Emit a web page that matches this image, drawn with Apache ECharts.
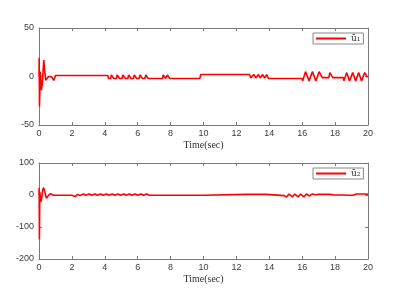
<!DOCTYPE html>
<html>
<head>
<meta charset="utf-8">
<script src="https://cdn.jsdelivr.net/npm/echarts@6/dist/echarts.min.js"></script>
<style>html,body{margin:0;padding:0;background:#fff;}#c{width:416px;height:289px;}</style>
</head>
<body>
<div id="c"></div>
<script>
// ---- data ----
var xTicks = [0, 2, 4, 6, 8, 10, 12, 14, 16, 18, 20];
var u1Ticks = [-50, 0, 50];
var u2Ticks = [-200, -100, 0, 100];
var u1Name = 'ū₁';
var u2Name = 'ū₂';
var xLabel = 'Time(sec)';

var u1T = [0, 0.01, 0.03, 0.08, 0.14, 0.2, 0.29, 0.35, 0.41, 0.5, 0.58, 0.65, 0.75, 0.9, 0.96, 1.0,
  4.18, 4.22, 4.35, 4.4, 4.5, 4.55, 4.7, 4.75, 4.85, 4.9, 5.05, 5.1, 5.2, 5.25, 5.4, 5.45, 5.55, 5.6,
  5.74, 5.79, 5.89, 5.94, 6.09, 6.14, 6.24, 6.29, 6.44, 6.49, 6.59, 6.64,
  7.5, 7.55, 7.65, 7.7, 7.75, 7.8, 7.9, 7.95, 9.78, 9.83,
  12.8, 12.88, 13.0, 13.05, 13.15, 13.2, 13.27, 13.32, 13.42, 13.46, 13.53, 13.58, 13.68, 13.72, 13.79, 13.84, 13.9, 13.95,
  16.0, 16.03, 16.09, 16.2, 16.3, 16.42, 16.5, 16.62, 16.72, 16.83, 16.92, 17.03, 17.12, 17.22,
  17.62, 17.68, 17.8, 17.86, 18.5, 18.54, 18.6, 18.7, 18.78, 18.88, 18.96, 19.07, 19.15, 19.25, 19.33,
  19.43, 19.51, 19.61, 19.69, 19.8, 19.88, 19.97, 20];
var u1V = [0, 19, -31, 5, -14, -8, 17, 5, -4, -4, 0, 2, 0, -4, -3, 1,
  1, -2, -2, 1.5, 1.5, -2, -2, 1.5, 1.5, -2, -2, 1.5, 1.5, -2, -2, 1.5, 1.5, -2,
  -2, 1.5, 1.5, -2, -2, 1.5, 1.5, -2, -2, 1.5, 1.5, -2,
  -2, 1.5, 1.5, -2, -2, 1.5, 1.5, -2, -2, 2,
  2, -1.5, -1.5, 2, 2, -1.5, -1.5, 2, 2, -1.5, -1.5, 2, 2, -1.5, -1.5, 2, 2, -2,
  -2, -4.5, -4.5, 5, 5, -4.5, -4.5, 5, 5, -4.5, -4.5, 5, 5, -1.2,
  -1.2, 4, 4, -1.2, -1.2, -4.5, -4.5, 4, 4, -4.5, -4.5, 4, 4, -4.5, -4.5,
  4, 4, -4.5, -4.5, 4, 4, -1, -1];

var u2T = [0, 0.01, 0.025, 0.05, 0.1, 0.15, 0.22, 0.28, 0.35, 0.45, 0.55, 0.68, 0.8, 0.9, 1.55, 1.65, 1.8, 2.0,
  2.2, 2.35, 2.5, 2.7, 2.85, 3.05, 3.2, 3.4, 3.55, 3.75, 3.9, 4.1, 4.25, 4.45, 4.6, 4.8, 4.95, 5.15, 5.3,
  5.5, 5.65, 5.85, 6.0, 6.2, 6.35, 6.55, 6.7, 7.8, 7.87, 7.95, 10.0, 10.1, 12.6, 12.7, 12.8, 12.9, 13.0,
  13.1, 13.2, 13.3, 13.45, 13.6, 13.7, 13.8, 13.9, 14.9, 15.05, 15.2, 15.4, 15.55, 15.75, 15.9, 16.1, 16.25,
  16.45, 16.6, 16.8, 17.0, 17.7, 17.8, 17.9, 18.5, 18.6, 18.7, 18.8, 18.9, 19.0, 19.1, 19.3, 19.4, 19.55,
  19.65, 19.8, 19.9, 20];
var u2V = [0, 22, -138, 10, -22, -15, 15, 23, 10, -10, -3, 4, 0, -1, -1, 3, -1, -1,
  -5, 2, -2, 3, -1, 3, -1, 3, -1, 3, -1, 3, -1, 3, -1, 3, -1, 3, -1,
  3, -1, 3, -1, 3, -1, 3, -1, -1, 3, -1, -1, 2, 2, -1, 2, -1, 2,
  -1, 2, -1, 2, 2, -1, 2, -2, -2, -6, 3, -6, 3, -6, 3, -6, 3,
  -3, 3, 1, 2, 2, 4, 0, 0, 3, -1, 3, -1, 3, -1, 3, -1, 3,
  -1, 3, -1, 2];

function pairs(t, v) { return t.map(function (x, i) { return [x, v[i]]; }); }

var axisColor = '#7a7a7a';
var labelStyle = { color: '#3a3a3a', fontSize: 9, fontFamily: 'Liberation Sans, Arial, sans-serif' };
function xAx(gi, main) {
  return {
    type: 'value', gridIndex: gi, min: xTicks[0], max: xTicks[xTicks.length - 1], interval: 2,
    position: main ? 'bottom' : 'top',
    axisLine: { show: true, onZero: false, lineStyle: { color: axisColor, width: 1 } },
    axisTick: { show: true, inside: true, length: 3, lineStyle: { color: axisColor } },
    axisLabel: main ? Object.assign({ margin: 4 }, labelStyle) : { show: false },
    splitLine: { show: false },
    name: main ? xLabel : '', nameLocation: 'middle', nameGap: 15,
    nameTextStyle: { fontFamily: 'Liberation Serif, Times New Roman, serif', fontSize: 10, color: '#333' }
  };
}
function yAx(gi, ticks, main) {
  return {
    type: 'value', gridIndex: gi, min: ticks[0], max: ticks[ticks.length - 1], interval: ticks[1] - ticks[0],
    position: main ? 'left' : 'right',
    axisLine: { show: true, onZero: false, lineStyle: { color: axisColor, width: 1 } },
    axisTick: { show: true, inside: true, length: 3, lineStyle: { color: axisColor } },
    axisLabel: main ? Object.assign({ margin: 5 }, labelStyle) : { show: false },
    splitLine: { show: false }
  };
}
function legend(name, top) {
  return {
    data: [name], left: 313, top: top, orient: 'horizontal',
    icon: 'rect', itemWidth: 30, itemHeight: 2, padding: [1, 3, 1, 3],
    borderColor: '#888', borderWidth: 1, backgroundColor: '#fff', borderRadius: 0,
    textStyle: { fontSize: 9, color: '#333', fontFamily: 'DejaVu Serif, Liberation Serif, serif' },
    selectedMode: false
  };
}

var chart = echarts.init(document.getElementById('c'), null, { renderer: 'canvas' });
chart.setOption({
  animation: false,
  backgroundColor: '#fff',
  grid: [
    { left: 39, top: 28, width: 329, height: 97 },
    { left: 39, top: 163, width: 329, height: 96 }
  ],
  xAxis: [xAx(0, true), xAx(0, false), xAx(1, true), xAx(1, false)],
  yAxis: [yAx(0, u1Ticks, true), yAx(0, u1Ticks, false), yAx(1, u2Ticks, true), yAx(1, u2Ticks, false)],
  legend: [legend(u1Name, 33), legend(u2Name, 168)],
  series: [
    { name: u1Name, type: 'line', xAxisIndex: 0, yAxisIndex: 0, data: pairs(u1T, u1V), showSymbol: false,
      lineStyle: { color: '#ff0000', width: 1.6 }, itemStyle: { color: '#ff0000' } },
    { name: u2Name, type: 'line', xAxisIndex: 2, yAxisIndex: 2, data: pairs(u2T, u2V), showSymbol: false,
      lineStyle: { color: '#ff0000', width: 1.6 }, itemStyle: { color: '#ff0000' } }
  ]
});
</script>
</body>
</html>
